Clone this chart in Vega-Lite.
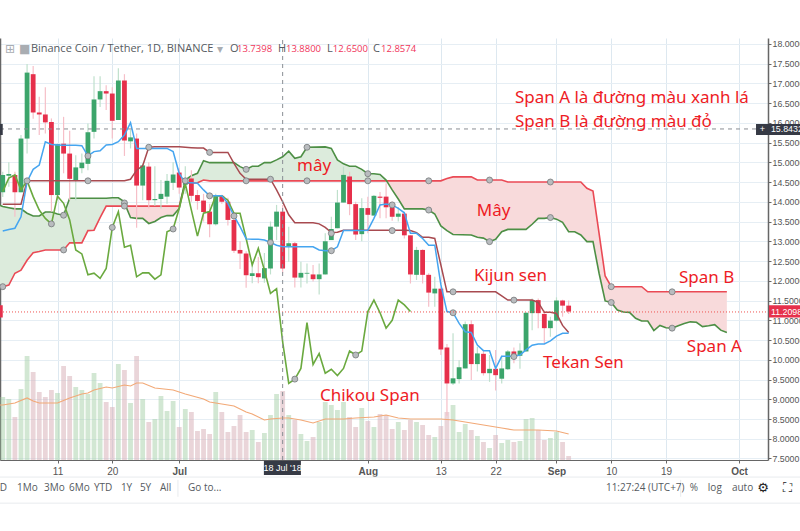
{
"$schema":"https://vega.github.io/schema/vega-lite/v6.json",
"width":768,"height":422,"autosize":{"type":"none"},
"padding":{"left":0,"top":38,"right":32,"bottom":71},
"background":"#ffffff",
"config":{"view":{"stroke":null},"axis":{"title":null}},
"datasets":{
"days":[
{"date":"2018-06-02","open":14.24,"close":14.68,"high":14.76,"low":14.12,"vol":63,"dir":"up","ten":13.26,"kij":13.94,"chi":14.26},
{"date":"2018-06-03","open":14.66,"close":14.7,"high":15.0,"low":14.38,"vol":61,"dir":"up","ten":13.3,"kij":13.94,"chi":14.6},
{"date":"2018-06-04","open":14.68,"close":14.24,"high":14.76,"low":13.62,"vol":43,"dir":"down","ten":13.33,"kij":13.94,"chi":14.68},
{"date":"2018-06-05","open":14.24,"close":15.6,"high":15.69,"low":14.24,"vol":71,"dir":"up","ten":13.62,"kij":13.94,"chi":14.3},
{"date":"2018-06-06","open":15.6,"close":17.27,"high":17.49,"low":15.22,"vol":104,"dir":"up","ten":14.51,"kij":14.53,"chi":14.53},
{"date":"2018-06-07","open":17.23,"close":16.26,"high":17.44,"low":16.1,"vol":88,"dir":"down","ten":14.82,"kij":14.53,"chi":14.13},
{"date":"2018-06-08","open":16.26,"close":16.21,"high":16.66,"low":15.69,"vol":68,"dir":"down","ten":14.93,"kij":14.53,"chi":13.79},
{"date":"2018-06-09","open":16.21,"close":16.01,"high":16.9,"low":15.73,"vol":63,"dir":"down","ten":15.52,"kij":14.53,"chi":13.58},
{"date":"2018-06-10","open":16.02,"close":14.17,"high":16.11,"low":13.75,"vol":70,"dir":"down","ten":15.45,"kij":14.53,"chi":13.44},
{"date":"2018-06-11","open":14.17,"close":15.46,"high":15.47,"low":14.04,"vol":67,"dir":"up","ten":15.44,"kij":14.53,"chi":14.14},
{"date":"2018-06-12","open":15.47,"close":15.22,"high":16.15,"low":14.72,"vol":94,"dir":"down","ten":15.43,"kij":14.53,"chi":13.96},
{"date":"2018-06-13","open":15.22,"close":14.58,"high":15.8,"low":14.04,"vol":84,"dir":"down","ten":15.43,"kij":14.53,"chi":13.54},
{"date":"2018-06-14","open":14.55,"close":14.87,"high":15.18,"low":14.04,"vol":73,"dir":"up","ten":15.43,"kij":14.53,"chi":12.78},
{"date":"2018-06-15","open":14.85,"close":14.99,"high":15.22,"low":14.72,"vol":70,"dir":"up","ten":15.42,"kij":14.53,"chi":12.68},
{"date":"2018-06-16","open":14.96,"close":15.76,"high":15.98,"low":14.8,"vol":66,"dir":"up","ten":15.16,"kij":14.53,"chi":12.15},
{"date":"2018-06-17","open":15.77,"close":16.59,"high":17.18,"low":15.6,"vol":87,"dir":"up","ten":15.27,"kij":14.53,"chi":12.19},
{"date":"2018-06-18","open":16.59,"close":16.8,"high":17.18,"low":16.4,"vol":77,"dir":"up","ten":15.29,"kij":14.53,"chi":12.06},
{"date":"2018-06-19","open":16.8,"close":16.74,"high":16.95,"low":16.32,"vol":58,"dir":"down","ten":15.44,"kij":14.53,"chi":12.31},
{"date":"2018-06-20","open":16.74,"close":16.05,"high":16.9,"low":15.6,"vol":53,"dir":"down","ten":15.45,"kij":14.53,"chi":13.35},
{"date":"2018-06-21","open":16.07,"close":17.07,"high":17.38,"low":16.07,"vol":96,"dir":"up","ten":15.52,"kij":14.53,"chi":13.75},
{"date":"2018-06-22","open":17.07,"close":15.55,"high":17.23,"low":15.16,"vol":90,"dir":"down","ten":15.69,"kij":14.53,"chi":12.85},
{"date":"2018-06-23","open":15.53,"close":15.63,"high":15.82,"low":15.35,"vol":57,"dir":"up","ten":16.0,"kij":14.57,"chi":12.9},
{"date":"2018-06-24","open":15.6,"close":14.41,"high":15.73,"low":13.34,"vol":104,"dir":"down","ten":15.35,"kij":14.8,"chi":12.1},
{"date":"2018-06-25","open":14.41,"close":14.92,"high":14.97,"low":14.04,"vol":61,"dir":"up","ten":15.35,"kij":14.91,"chi":12.2},
{"date":"2018-06-26","open":14.89,"close":14.04,"high":15.0,"low":13.83,"vol":38,"dir":"down","ten":15.35,"kij":15.38,"chi":12.2},
{"date":"2018-06-27","open":14.04,"close":14.07,"high":14.9,"low":13.9,"vol":41,"dir":"up","ten":15.35,"kij":15.39,"chi":12.04},
{"date":"2018-06-28","open":14.07,"close":14.2,"high":14.55,"low":13.83,"vol":64,"dir":"up","ten":15.35,"kij":15.39,"chi":12.15},
{"date":"2018-06-29","open":14.13,"close":14.53,"high":14.7,"low":13.95,"vol":49,"dir":"up","ten":15.35,"kij":15.39,"chi":13.24},
{"date":"2018-06-30","open":14.48,"close":14.69,"high":15.0,"low":14.3,"vol":59,"dir":"up","ten":15.27,"kij":15.39,"chi":13.31},
{"date":"2018-07-01","open":14.74,"close":14.36,"high":14.85,"low":14.2,"vol":33,"dir":"down","ten":14.72,"kij":15.39,"chi":13.83},
{"date":"2018-07-02","open":14.43,"close":14.59,"high":14.9,"low":14.2,"vol":51,"dir":"up","ten":14.48,"kij":15.38,"chi":14.46},
{"date":"2018-07-03","open":14.59,"close":14.15,"high":14.8,"low":14.0,"vol":48,"dir":"down","ten":14.48,"kij":15.37,"chi":13.79},
{"date":"2018-07-04","open":14.17,"close":14.02,"high":14.3,"low":13.8,"vol":29,"dir":"down","ten":14.47,"kij":15.36,"chi":13.13},
{"date":"2018-07-05","open":14.03,"close":13.74,"high":14.2,"low":13.5,"vol":31,"dir":"down","ten":14.3,"kij":15.36,"chi":13.71},
{"date":"2018-07-06","open":13.75,"close":13.43,"high":13.95,"low":13.1,"vol":26,"dir":"down","ten":14.15,"kij":15.25,"chi":13.75},
{"date":"2018-07-07","open":13.43,"close":14.15,"high":14.2,"low":13.4,"vol":68,"dir":"up","ten":14.15,"kij":15.25,"chi":14.15},
{"date":"2018-07-08","open":14.15,"close":14.0,"high":14.18,"low":13.95,"vol":48,"dir":"down","ten":14.15,"kij":15.25,"chi":14.15},
{"date":"2018-07-09","open":14.0,"close":13.54,"high":14.1,"low":13.4,"vol":28,"dir":"down","ten":13.96,"kij":15.25,"chi":14.04},
{"date":"2018-07-10","open":13.54,"close":12.76,"high":13.6,"low":12.7,"vol":34,"dir":"down","ten":13.64,"kij":14.97,"chi":13.71},
{"date":"2018-07-11","open":12.78,"close":12.69,"high":13.0,"low":12.3,"vol":45,"dir":"down","ten":13.37,"kij":14.72,"chi":13.71},
{"date":"2018-07-12","open":12.69,"close":12.14,"high":12.75,"low":11.82,"vol":28,"dir":"down","ten":13.06,"kij":14.57,"chi":13.07},
{"date":"2018-07-13","open":12.12,"close":12.19,"high":12.5,"low":11.94,"vol":30,"dir":"up","ten":13.05,"kij":14.57,"chi":12.4},
{"date":"2018-07-14","open":12.19,"close":12.09,"high":12.6,"low":11.94,"vol":18,"dir":"down","ten":13.05,"kij":14.57,"chi":12.82},
{"date":"2018-07-15","open":12.06,"close":12.32,"high":12.7,"low":11.95,"vol":27,"dir":"up","ten":13.03,"kij":14.57,"chi":12.27},
{"date":"2018-07-16","open":12.31,"close":13.37,"high":13.5,"low":12.16,"vol":45,"dir":"up","ten":12.97,"kij":14.57,"chi":11.68},
{"date":"2018-07-17","open":13.37,"close":13.75,"high":13.92,"low":13.03,"vol":66,"dir":"up","ten":12.9,"kij":14.3,"chi":11.8},
{"date":"2018-07-18","open":13.75,"close":12.31,"high":13.92,"low":12.2,"vol":69,"dir":"down","ten":12.86,"kij":14.0,"chi":10.45},
{"date":"2018-07-19","open":12.86,"close":12.95,"high":13.37,"low":12.48,"vol":45,"dir":"up","ten":12.86,"kij":13.67,"chi":9.4},
{"date":"2018-07-20","open":12.95,"close":12.08,"high":12.98,"low":11.83,"vol":40,"dir":"down","ten":12.86,"kij":13.47,"chi":9.51},
{"date":"2018-07-21","open":12.08,"close":12.2,"high":12.48,"low":11.83,"vol":26,"dir":"up","ten":12.86,"kij":13.47,"chi":9.78},
{"date":"2018-07-22","open":12.18,"close":12.2,"high":12.44,"low":11.93,"vol":19,"dir":"up","ten":12.86,"kij":13.47,"chi":10.94},
{"date":"2018-07-23","open":12.16,"close":12.04,"high":12.4,"low":11.98,"vol":23,"dir":"down","ten":12.86,"kij":13.47,"chi":9.88},
{"date":"2018-07-24","open":12.04,"close":12.16,"high":12.44,"low":11.65,"vol":38,"dir":"up","ten":12.78,"kij":13.44,"chi":10.16},
{"date":"2018-07-25","open":12.16,"close":13.0,"high":13.2,"low":12.16,"vol":58,"dir":"up","ten":12.76,"kij":13.35,"chi":9.66},
{"date":"2018-07-26","open":13.03,"close":13.31,"high":13.62,"low":13.03,"vol":55,"dir":"up","ten":12.76,"kij":13.22,"chi":9.76},
{"date":"2018-07-27","open":13.33,"close":13.98,"high":14.3,"low":13.33,"vol":50,"dir":"up","ten":12.86,"kij":13.23,"chi":9.6},
{"date":"2018-07-28","open":13.98,"close":14.68,"high":14.89,"low":13.98,"vol":58,"dir":"up","ten":13.27,"kij":13.28,"chi":9.78},
{"date":"2018-07-29","open":14.64,"close":13.94,"high":14.76,"low":13.66,"vol":43,"dir":"down","ten":13.27,"kij":13.28,"chi":10.22},
{"date":"2018-07-30","open":13.94,"close":13.17,"high":14.0,"low":13.03,"vol":33,"dir":"down","ten":13.27,"kij":13.28,"chi":10.12},
{"date":"2018-07-31","open":13.18,"close":13.84,"high":14.09,"low":13.0,"vol":52,"dir":"up","ten":13.27,"kij":13.28,"chi":10.22},
{"date":"2018-08-01","open":13.84,"close":13.67,"high":14.13,"low":13.2,"vol":39,"dir":"down","ten":13.28,"kij":13.28,"chi":11.22},
{"date":"2018-08-02","open":13.65,"close":14.15,"high":14.17,"low":13.65,"vol":33,"dir":"up","ten":13.58,"kij":13.28,"chi":11.51},
{"date":"2018-08-03","open":14.13,"close":14.1,"high":14.25,"low":13.58,"vol":46,"dir":"down","ten":13.92,"kij":13.28,"chi":11.19},
{"date":"2018-08-04","open":14.13,"close":13.86,"high":14.47,"low":13.58,"vol":45,"dir":"down","ten":13.94,"kij":13.28,"chi":10.8},
{"date":"2018-08-05","open":13.86,"close":13.62,"high":14.0,"low":13.52,"vol":31,"dir":"down","ten":13.92,"kij":13.28,"chi":11.0},
{"date":"2018-08-06","open":13.62,"close":13.7,"high":13.87,"low":13.5,"vol":38,"dir":"up","ten":13.83,"kij":13.28,"chi":11.51},
{"date":"2018-08-07","open":13.7,"close":13.15,"high":13.75,"low":13.07,"vol":30,"dir":"down","ten":13.72,"kij":13.28,"chi":11.39},
{"date":"2018-08-08","open":13.15,"close":12.16,"high":13.15,"low":11.93,"vol":40,"dir":"down","ten":13.2,"kij":13.27,"chi":11.22},
{"date":"2018-08-09","open":12.15,"close":12.78,"high":12.86,"low":12.02,"vol":38,"dir":"up","ten":13.2,"kij":13.22},
{"date":"2018-08-10","open":12.78,"close":12.15,"high":12.8,"low":11.93,"vol":35,"dir":"down","ten":13.07,"kij":13.1},
{"date":"2018-08-11","open":12.15,"close":11.7,"high":12.19,"low":11.34,"vol":25,"dir":"down","ten":12.9,"kij":13.1},
{"date":"2018-08-12","open":11.68,"close":11.8,"high":12.1,"low":11.34,"vol":23,"dir":"up","ten":12.9,"kij":13.07},
{"date":"2018-08-13","open":11.8,"close":10.26,"high":11.85,"low":10.12,"vol":34,"dir":"down","ten":11.9,"kij":12.4},
{"date":"2018-08-14","open":10.31,"close":9.4,"high":10.4,"low":8.58,"vol":48,"dir":"down","ten":11.22,"kij":11.72},
{"date":"2018-08-15","open":9.4,"close":9.53,"high":10.67,"low":9.36,"vol":55,"dir":"up","ten":11.19,"kij":11.72},
{"date":"2018-08-16","open":9.51,"close":9.81,"high":9.99,"low":9.4,"vol":28,"dir":"up","ten":10.92,"kij":11.72},
{"date":"2018-08-17","open":9.78,"close":10.9,"high":10.97,"low":9.78,"vol":36,"dir":"up","ten":10.71,"kij":11.72},
{"date":"2018-08-18","open":10.9,"close":9.89,"high":11.0,"low":9.49,"vol":30,"dir":"down","ten":10.69,"kij":11.72},
{"date":"2018-08-19","open":9.89,"close":10.16,"high":10.33,"low":9.7,"vol":24,"dir":"up","ten":10.37,"kij":11.72},
{"date":"2018-08-20","open":10.15,"close":9.66,"high":10.25,"low":9.6,"vol":18,"dir":"down","ten":10.23,"kij":11.72},
{"date":"2018-08-21","open":9.66,"close":9.77,"high":10.12,"low":9.44,"vol":12,"dir":"up","ten":10.23,"kij":11.72},
{"date":"2018-08-22","open":9.77,"close":9.61,"high":10.25,"low":9.22,"vol":25,"dir":"down","ten":9.78,"kij":11.72},
{"date":"2018-08-23","open":9.52,"close":9.78,"high":10.1,"low":9.4,"vol":17,"dir":"up","ten":10.09,"kij":11.62},
{"date":"2018-08-24","open":9.76,"close":10.21,"high":10.25,"low":9.74,"vol":20,"dir":"up","ten":10.09,"kij":11.51},
{"date":"2018-08-25","open":10.21,"close":10.09,"high":10.31,"low":9.91,"vol":18,"dir":"down","ten":10.09,"kij":11.51},
{"date":"2018-08-26","open":10.1,"close":10.23,"high":10.42,"low":9.77,"vol":19,"dir":"up","ten":10.12,"kij":11.51},
{"date":"2018-08-27","open":10.21,"close":11.19,"high":11.2,"low":10.21,"vol":41,"dir":"up","ten":10.25,"kij":11.51},
{"date":"2018-08-28","open":11.18,"close":11.51,"high":11.55,"low":10.75,"vol":42,"dir":"up","ten":10.37,"kij":11.51},
{"date":"2018-08-29","open":11.51,"close":11.18,"high":11.55,"low":10.8,"vol":30,"dir":"down","ten":10.4,"kij":11.45},
{"date":"2018-08-30","open":11.16,"close":10.8,"high":11.25,"low":10.42,"vol":20,"dir":"down","ten":10.4,"kij":11.2},
{"date":"2018-08-31","open":10.8,"close":10.99,"high":11.09,"low":10.58,"vol":22,"dir":"up","ten":10.48,"kij":11.2},
{"date":"2018-09-01","open":10.99,"close":11.5,"high":11.58,"low":10.96,"vol":28,"dir":"up","ten":10.6,"kij":11.17},
{"date":"2018-09-02","open":11.5,"close":11.37,"high":11.52,"low":11.09,"vol":18,"dir":"down","ten":10.67,"kij":10.87},
{"date":"2018-09-03","open":11.37,"close":11.22,"high":11.5,"low":11.16,"vol":4,"dir":"down","ten":10.67,"kij":10.69}
],
"span":[
{"date":"2018-06-01","a":13.94,"b":11.8,"seg":"g1"},{"date":"2018-06-02","a":13.88,"b":11.85,"seg":"g1"},{"date":"2018-06-03","a":13.85,"b":11.89,"seg":"g1"},{"date":"2018-06-04","a":13.82,"b":12.19,"seg":"g1"},{"date":"2018-06-05","a":13.82,"b":12.27,"seg":"g1"},{"date":"2018-06-06","a":13.71,"b":12.52,"seg":"g1"},{"date":"2018-06-07","a":13.64,"b":12.71,"seg":"g1"},{"date":"2018-06-08","a":13.64,"b":12.74,"seg":"g1"},{"date":"2018-06-09","a":13.74,"b":12.78,"seg":"g1"},{"date":"2018-06-10","a":13.74,"b":12.78,"seg":"g1"},{"date":"2018-06-11","a":13.69,"b":12.78,"seg":"g1"},{"date":"2018-06-12","a":13.66,"b":12.78,"seg":"g1"},{"date":"2018-06-13","a":14.09,"b":12.96,"seg":"g1"},{"date":"2018-06-15","a":14.09,"b":12.96,"seg":"g1"},{"date":"2018-06-16","a":14.09,"b":13.27,"seg":"g1"},{"date":"2018-06-17","a":14.09,"b":13.28,"seg":"g1"},{"date":"2018-06-18","a":14.09,"b":13.6,"seg":"g1"},{"date":"2018-06-19","a":14.09,"b":13.89,"seg":"g1"},{"date":"2018-06-20","a":14.1,"b":13.89,"seg":"g1"},{"date":"2018-06-21","a":14.1,"b":13.89,"seg":"g1"},{"date":"2018-06-22","a":14.0,"b":13.89,"seg":"g1"},{"date":"2018-06-22T05:00:00Z","a":13.89,"b":13.89,"seg":"g1"},
{"date":"2018-06-22T05:00:00Z","a":13.89,"b":13.89,"seg":"r1"},{"date":"2018-06-23","a":13.6,"b":13.89,"seg":"r1"},{"date":"2018-06-24","a":13.58,"b":13.89,"seg":"r1"},{"date":"2018-06-25","a":13.58,"b":13.89,"seg":"r1"},{"date":"2018-06-26","a":13.45,"b":13.89,"seg":"r1"},{"date":"2018-06-27","a":13.5,"b":13.89,"seg":"r1"},{"date":"2018-06-28","a":13.6,"b":13.89,"seg":"r1"},{"date":"2018-06-29","a":13.65,"b":13.89,"seg":"r1"},{"date":"2018-06-30","a":13.65,"b":13.89,"seg":"r1"},{"date":"2018-07-01","a":13.83,"b":13.89,"seg":"r1"},{"date":"2018-07-01T10:00:00Z","a":14.14,"b":14.14,"seg":"r1"},
{"date":"2018-07-01T10:00:00Z","a":14.14,"b":14.14,"seg":"g2"},{"date":"2018-07-02","a":14.55,"b":14.47,"seg":"g2"},{"date":"2018-07-03","a":14.66,"b":14.47,"seg":"g2"},{"date":"2018-07-04","a":14.72,"b":14.48,"seg":"g2"},{"date":"2018-07-05","a":15.04,"b":14.55,"seg":"g2"},{"date":"2018-07-06","a":14.99,"b":14.53,"seg":"g2"},{"date":"2018-07-10","a":14.99,"b":14.53,"seg":"g2"},{"date":"2018-07-11","a":14.89,"b":14.53,"seg":"g2"},{"date":"2018-07-12","a":14.82,"b":14.53,"seg":"g2"},{"date":"2018-07-13","a":14.9,"b":14.53,"seg":"g2"},{"date":"2018-07-14","a":14.9,"b":14.53,"seg":"g2"},{"date":"2018-07-15","a":14.99,"b":14.53,"seg":"g2"},{"date":"2018-07-16","a":14.99,"b":14.53,"seg":"g2"},{"date":"2018-07-17","a":15.06,"b":14.53,"seg":"g2"},{"date":"2018-07-18","a":15.14,"b":14.53,"seg":"g2"},{"date":"2018-07-19","a":15.28,"b":14.53,"seg":"g2"},{"date":"2018-07-20","a":15.1,"b":14.53,"seg":"g2"},{"date":"2018-07-21","a":15.14,"b":14.53,"seg":"g2"},{"date":"2018-07-22","a":15.38,"b":14.53,"seg":"g2"},{"date":"2018-07-25","a":15.39,"b":14.53,"seg":"g2"},{"date":"2018-07-26","a":15.35,"b":14.53,"seg":"g2"},{"date":"2018-07-27","a":15.06,"b":14.53,"seg":"g2"},{"date":"2018-07-28","a":14.96,"b":14.53,"seg":"g2"},{"date":"2018-07-29","a":14.9,"b":14.53,"seg":"g2"},{"date":"2018-07-30","a":14.9,"b":14.53,"seg":"g2"},{"date":"2018-07-31","a":14.82,"b":14.53,"seg":"g2"},{"date":"2018-08-01","a":14.71,"b":14.53,"seg":"g2"},{"date":"2018-08-02","a":14.71,"b":14.53,"seg":"g2"},{"date":"2018-08-03","a":14.69,"b":14.53,"seg":"g2"},{"date":"2018-08-04","a":14.55,"b":14.53,"seg":"g2"},{"date":"2018-08-04T02:00:00Z","a":14.53,"b":14.53,"seg":"g2"},
{"date":"2018-08-04T02:00:00Z","a":14.53,"b":14.53,"seg":"r2"},{"date":"2018-08-05","a":14.3,"b":14.53,"seg":"r2"},{"date":"2018-08-06","a":14.07,"b":14.53,"seg":"r2"},{"date":"2018-08-07","a":13.82,"b":14.53,"seg":"r2"},{"date":"2018-08-10","a":13.82,"b":14.53,"seg":"r2"},{"date":"2018-08-11","a":13.79,"b":14.53,"seg":"r2"},{"date":"2018-08-12","a":13.69,"b":14.53,"seg":"r2"},{"date":"2018-08-13","a":13.39,"b":14.53,"seg":"r2"},{"date":"2018-08-14","a":13.27,"b":14.59,"seg":"r2"},{"date":"2018-08-15","a":13.17,"b":14.63,"seg":"r2"},{"date":"2018-08-18","a":13.16,"b":14.63,"seg":"r2"},{"date":"2018-08-19","a":13.1,"b":14.55,"seg":"r2"},{"date":"2018-08-20","a":13.08,"b":14.55,"seg":"r2"},{"date":"2018-08-21","a":12.99,"b":14.55,"seg":"r2"},{"date":"2018-08-22","a":13.05,"b":14.55,"seg":"r2"},{"date":"2018-08-23","a":13.24,"b":14.55,"seg":"r2"},{"date":"2018-08-24","a":13.3,"b":14.5,"seg":"r2"},{"date":"2018-08-27","a":13.3,"b":14.5,"seg":"r2"},{"date":"2018-08-28","a":13.43,"b":14.5,"seg":"r2"},{"date":"2018-08-29","a":13.58,"b":14.5,"seg":"r2"},{"date":"2018-08-30","a":13.58,"b":14.5,"seg":"r2"},{"date":"2018-08-31","a":13.6,"b":14.5,"seg":"r2"},{"date":"2018-09-01","a":13.56,"b":14.5,"seg":"r2"},{"date":"2018-09-02","a":13.48,"b":14.5,"seg":"r2"},{"date":"2018-09-03","a":13.24,"b":14.5,"seg":"r2"},{"date":"2018-09-04","a":13.24,"b":14.5,"seg":"r2"},{"date":"2018-09-05","a":13.16,"b":14.5,"seg":"r2"},{"date":"2018-09-06","a":12.99,"b":14.34,"seg":"r2"},{"date":"2018-09-07","a":12.99,"b":14.27,"seg":"r2"},{"date":"2018-09-08","a":12.19,"b":13.2,"seg":"r2"},{"date":"2018-09-09","a":11.49,"b":12.12,"seg":"r2"},{"date":"2018-09-10","a":11.45,"b":11.85,"seg":"r2"},{"date":"2018-09-11","a":11.26,"b":11.85,"seg":"r2"},{"date":"2018-09-12","a":11.21,"b":11.85,"seg":"r2"},{"date":"2018-09-13","a":11.2,"b":11.85,"seg":"r2"},{"date":"2018-09-14","a":11.05,"b":11.85,"seg":"r2"},{"date":"2018-09-15","a":10.98,"b":11.85,"seg":"r2"},{"date":"2018-09-16","a":10.98,"b":11.72,"seg":"r2"},{"date":"2018-09-17","a":10.74,"b":11.72,"seg":"r2"},{"date":"2018-09-18","a":10.87,"b":11.72,"seg":"r2"},{"date":"2018-09-19","a":10.81,"b":11.72,"seg":"r2"},{"date":"2018-09-20","a":10.8,"b":11.72,"seg":"r2"},{"date":"2018-09-21","a":10.86,"b":11.72,"seg":"r2"},{"date":"2018-09-22","a":10.92,"b":11.72,"seg":"r2"},{"date":"2018-09-23","a":10.96,"b":11.72,"seg":"r2"},{"date":"2018-09-24","a":10.95,"b":11.72,"seg":"r2"},{"date":"2018-09-25","a":10.84,"b":11.72,"seg":"r2"},{"date":"2018-09-26","a":10.86,"b":11.72,"seg":"r2"},{"date":"2018-09-27","a":10.89,"b":11.72,"seg":"r2"},{"date":"2018-09-28","a":10.75,"b":11.72,"seg":"r2"},{"date":"2018-09-29","a":10.69,"b":11.72,"seg":"r2"}
],
"volma":[
{"date":"2018-06-01","ma":55},{"date":"2018-06-02","ma":55},{"date":"2018-06-04","ma":57},{"date":"2018-06-06","ma":62},{"date":"2018-06-07","ma":59},{"date":"2018-06-08","ma":57},{"date":"2018-06-11","ma":57},{"date":"2018-06-13","ma":62},{"date":"2018-06-15","ma":66},{"date":"2018-06-16","ma":67},{"date":"2018-06-17","ma":70},{"date":"2018-06-19","ma":73},{"date":"2018-06-20","ma":72},{"date":"2018-06-22","ma":75},{"date":"2018-06-23","ma":74},{"date":"2018-06-24","ma":77},{"date":"2018-06-25","ma":77},{"date":"2018-06-27","ma":72},{"date":"2018-06-30","ma":70},{"date":"2018-07-02","ma":66},{"date":"2018-07-05","ma":61},{"date":"2018-07-06","ma":58},{"date":"2018-07-08","ma":56},{"date":"2018-07-10","ma":54},{"date":"2018-07-12","ma":48},{"date":"2018-07-13","ma":46},{"date":"2018-07-15","ma":40},{"date":"2018-07-16","ma":41},{"date":"2018-07-18","ma":42},{"date":"2018-07-19","ma":42},{"date":"2018-07-21","ma":40},{"date":"2018-07-23","ma":37},{"date":"2018-07-25","ma":41},{"date":"2018-07-28","ma":41},{"date":"2018-07-30","ma":42},{"date":"2018-08-02","ma":43},{"date":"2018-08-04","ma":45},{"date":"2018-08-06","ma":42},{"date":"2018-08-08","ma":41},{"date":"2018-08-13","ma":41},{"date":"2018-08-15","ma":40},{"date":"2018-08-17","ma":38},{"date":"2018-08-20","ma":35},{"date":"2018-08-23","ma":32},{"date":"2018-08-25","ma":30},{"date":"2018-08-29","ma":30},{"date":"2018-09-01","ma":29},{"date":"2018-09-03","ma":26}
],
"markers":[
{"date":"2018-06-26","p":15.38},{"date":"2018-07-06","p":15.25},{"date":"2018-07-12","p":14.82},{"date":"2018-07-12","p":14.53},{"date":"2018-06-16","p":15.16},{"date":"2018-06-16","p":14.53},{"date":"2018-06-06","p":14.53},{"date":"2018-06-22","p":13.97},{"date":"2018-06-22","p":13.89},{"date":"2018-06-12","p":13.66},{"date":"2018-06-10","p":13.44},{"date":"2018-06-12","p":12.78},{"date":"2018-06-20","p":13.35},{"date":"2018-06-30","p":13.31},{"date":"2018-07-02","p":14.53},{"date":"2018-07-06","p":14.15},{"date":"2018-07-10","p":13.64},{"date":"2018-06-02","p":11.85},{"date":"2018-06-01","p":13.94},
{"date":"2018-07-22","p":15.38},{"date":"2018-08-01","p":14.71},{"date":"2018-07-16","p":14.57},{"date":"2018-07-22","p":14.53},{"date":"2018-08-01","p":14.53},{"date":"2018-08-11","p":14.53},{"date":"2018-08-21","p":14.55},{"date":"2018-08-11","p":13.79},{"date":"2018-08-21","p":12.99},{"date":"2018-08-05","p":13.92},{"date":"2018-08-05","p":13.27},{"date":"2018-07-26","p":13.2},{"date":"2018-07-26","p":12.76},{"date":"2018-07-16","p":12.97},{"date":"2018-08-15","p":11.72},{"date":"2018-08-25","p":11.51},
{"date":"2018-07-20","p":9.51},{"date":"2018-07-30","p":10.12},{"date":"2018-08-15","p":11.19},{"date":"2018-08-25","p":10.08},
{"date":"2018-08-31","p":14.5},{"date":"2018-08-31","p":13.6},{"date":"2018-09-10","p":11.85},{"date":"2018-09-10","p":11.45},{"date":"2018-09-20","p":11.72},{"date":"2018-09-20","p":10.8}
]
},
"encoding":{"x":{"field":"date","type":"temporal","scale":{"type":"utc","domain":["2018-06-01T13:12:00Z","2018-10-05T18:15:00Z"],"nice":false,"padding":0},
"axis":{"orient":"bottom","format":"%d","values":["2018-06-11","2018-06-20","2018-07-01","2018-08-01","2018-08-13","2018-08-22","2018-09-01","2018-09-10","2018-09-19","2018-10-01"],
"labelExpr":"utcFormat(datum.value, utcdate(datum.value)==1 ? '%b' : '%d')",
"labelFontWeight":{"condition":{"test":"utcdate(datum.value)==1","value":"bold"},"value":"normal"},
"grid":true,"gridColor":"#dde8f0","domainColor":"#666666","tickColor":"#666666","tickSize":3,"labelColor":"#555555","labelFont":"Liberation Sans","labelFontSize":10,"labelPadding":3,"labelFlush":false,"labelOverlap":false}}},
"resolve":{"scale":{"y":"independent"},"axis":{"y":"independent"}},
"layer":[
{"data":{"name":"days"},"mark":{"type":"bar","size":4.8,"opacity":0.5},
 "encoding":{"y":{"field":"vol","type":"quantitative","scale":{"domain":[0,422],"nice":false,"zero":false},
 "axis":{"orient":"left","labels":false,"ticks":false,"grid":false,"domain":true,"domainColor":"#666666","domainWidth":1.5}},
 "color":{"condition":{"test":"datum.dir=='up'","value":"#a5cfa8"},"value":"#d5acb4"}}},
{"data":{"name":"volma"},"mark":{"type":"line","color":"#f2a977","strokeWidth":1.2,"clip":true},
 "encoding":{"y":{"field":"ma","type":"quantitative","scale":{"domain":[0,422],"nice":false,"zero":false},"axis":null}}},
{"data":{"name":"span"},"transform":[{"filter":"test(/^g/,datum.seg)"}],"mark":{"type":"area","color":"#dcebdc","clip":true},
 "encoding":{"y":{"field":"a","type":"quantitative","scale":{"domain":[7.462,18.146],"nice":false,"zero":false},
  "axis":{"orient":"right","values":[7.5,8,8.5,9,9.5,10,10.5,11,11.5,12,12.5,13,13.5,14,14.5,15,15.5,16,16.5,17,17.5,18],"format":".4f","grid":true,"gridColor":"#e6eef4","domainColor":"#666666","domainWidth":1.5,"tickColor":"#666666","tickSize":3,"labelColor":"#555555","labelFont":"Liberation Sans","labelFontSize":8.8,"labelPadding":1,"labelOverlap":false,"labelFlush":false}},
  "y2":{"field":"b"},"detail":{"field":"seg"}}},
{"data":{"name":"span"},"transform":[{"filter":"test(/^r/,datum.seg)"}],"mark":{"type":"area","color":"#f8dadb","clip":true},
 "encoding":{"y":{"field":"a","type":"quantitative","scale":{"domain":[7.462,18.146],"nice":false,"zero":false},"axis":null},"y2":{"field":"b"},"detail":{"field":"seg"}}},
{"data":{"name":"span"},"mark":{"type":"line","color":"#ea4a55","strokeWidth":1.6,"clip":true},
 "encoding":{"y":{"field":"b","type":"quantitative","scale":{"domain":[7.462,18.146],"nice":false,"zero":false},"axis":null}}},
{"data":{"name":"span"},"mark":{"type":"line","color":"#4d8f45","strokeWidth":1.6,"clip":true},
 "encoding":{"y":{"field":"a","type":"quantitative","scale":{"domain":[7.462,18.146],"nice":false,"zero":false},"axis":null}}},
{"data":{"name":"days"},"mark":{"type":"rule","strokeWidth":1.2},
 "encoding":{"y":{"field":"low","type":"quantitative","scale":{"domain":[7.462,18.146],"nice":false,"zero":false},"axis":null},"y2":{"field":"high"},
 "color":{"condition":{"test":"datum.dir=='up'","value":"#bfe0cc"},"value":"#f6bfc8"}}},
{"data":{"name":"days"},"mark":{"type":"bar","size":4.8},
 "encoding":{"y":{"field":"open","type":"quantitative","scale":{"domain":[7.462,18.146],"nice":false,"zero":false},"axis":null},"y2":{"field":"close"},
 "color":{"condition":{"test":"datum.dir=='up'","value":"#3ca56b"},"value":"#e6304b"}}},
{"data":{"name":"days"},"mark":{"type":"line","color":"#6aa93f","strokeWidth":1.6,"clip":true},
 "encoding":{"y":{"field":"chi","type":"quantitative","scale":{"domain":[7.462,18.146],"nice":false,"zero":false},"axis":null}}},
{"data":{"name":"days"},"mark":{"type":"line","color":"#a84a50","strokeWidth":1.5,"clip":true},
 "encoding":{"y":{"field":"kij","type":"quantitative","scale":{"domain":[7.462,18.146],"nice":false,"zero":false},"axis":null}}},
{"data":{"name":"days"},"mark":{"type":"line","color":"#45a5f0","strokeWidth":1.5,"clip":true},
 "encoding":{"y":{"field":"ten","type":"quantitative","scale":{"domain":[7.462,18.146],"nice":false,"zero":false},"axis":null}}},
{"data":{"name":"markers"},"mark":{"type":"point","filled":true,"fill":"#b9bcbf","stroke":"#75787a","strokeWidth":0.8,"size":36,"opacity":1},
 "encoding":{"y":{"field":"p","type":"quantitative","scale":{"domain":[7.462,18.146],"nice":false,"zero":false},"axis":null}}},
{"data":{"values":[
 {"date":"2018-06-01T13:12:00Z","end":"2018-10-05T18:15:00Z","p":11.2098,"p2":11.2098,"k":"last"},
 {"date":"2018-06-01T13:12:00Z","end":"2018-10-03T19:00:00Z","p":15.8432,"p2":15.8432,"k":"cross"},
 {"date":"2018-07-18","end":"2018-07-18","p":7.462,"p2":18.146,"k":"cross"}]},
 "mark":{"type":"rule","strokeWidth":1},
 "encoding":{"x2":{"field":"end"},"y":{"field":"p","type":"quantitative","scale":{"domain":[7.462,18.146],"nice":false,"zero":false},"axis":null},"y2":{"field":"p2"},
 "color":{"condition":{"test":"datum.k=='last'","value":"#ef5350"},"value":"#8a8e94"},
 "strokeDash":{"condition":{"test":"datum.k=='last'","value":[1,2]},"value":[4,4]}}},
{"data":{"values":[
 {"date":"2018-06-01T13:12:00Z","end":"2018-10-11T04:00:00Z","p":7.03,"p2":7.03},
 {"date":"2018-06-01T13:12:00Z","end":"2018-10-11T04:00:00Z","p":6.37,"p2":6.37},
 {"date":"2018-06-30T19:00:00Z","end":"2018-06-30T19:00:00Z","p":6.96,"p2":6.53},
 {"date":"2018-09-21T10:00:00Z","end":"2018-09-21T10:00:00Z","p":6.96,"p2":6.53}]},
 "mark":{"type":"rule","strokeWidth":1,"color":"#e8ebee"},
 "encoding":{"x2":{"field":"end"},"y":{"field":"p","type":"quantitative","scale":{"domain":[7.462,18.146],"nice":false,"zero":false},"axis":null},"y2":{"field":"p2"}}},
{"data":{"values":[
 {"date":"2018-10-03T19:00:00Z","end":"2018-10-11T04:00:00Z","p":15.69,"p2":15.97,"c":"dark"},
 {"date":"2018-07-14T22:00:00Z","end":"2018-07-21T00:00:00Z","p":7.08,"p2":7.44,"c":"dark"},
 {"date":"2018-10-05T22:00:00Z","end":"2018-10-11T04:00:00Z","p":11.07,"p2":11.38,"c":"red"},
 {"date":"2018-06-01T13:12:00Z","end":"2018-06-02","p":15.69,"p2":15.97,"c":"dark"},
 {"date":"2018-06-01T13:12:00Z","end":"2018-06-02","p":11.07,"p2":11.38,"c":"red"}]},
 "mark":{"type":"rect"},
 "encoding":{"x2":{"field":"end"},"y":{"field":"p","type":"quantitative","scale":{"domain":[7.462,18.146],"nice":false,"zero":false},"axis":null},"y2":{"field":"p2"},
 "color":{"condition":{"test":"datum.c=='red'","value":"#e6304b"},"value":"#363a45"}}},
{"data":{"values":[
 {"date":"2018-10-06T06:00:00Z","p":15.83,"t":"15.8432"},
 {"date":"2018-10-06T06:00:00Z","p":11.22,"t":"11.2098"}]},
 "mark":{"type":"text","align":"left","baseline":"middle","color":"#ffffff","font":"Liberation Sans","fontSize":8.8},
 "encoding":{"y":{"field":"p","type":"quantitative","scale":{"domain":[7.462,18.146],"nice":false,"zero":false},"axis":null},"text":{"field":"t"}}},
{"data":{"values":[
 {"date":"2018-10-04T20:00:00Z","p":15.83,"t":"+"},
 {"date":"2018-07-18","p":7.26,"t":"18 Jul '18"}]},
 "mark":{"type":"text","align":"center","baseline":"middle","color":"#ffffff","font":"Liberation Sans","fontSize":9},
 "encoding":{"y":{"field":"p","type":"quantitative","scale":{"domain":[7.462,18.146],"nice":false,"zero":false},"axis":null},"text":{"field":"t"}}},
{"data":{"values":[
 {"date":"2018-08-25T04:00:00Z","p":16.63,"t":"Span A là đường màu xanh lá"},
 {"date":"2018-08-25T04:00:00Z","p":16.02,"t":"Span B là đường màu đỏ"},
 {"date":"2018-07-20T09:00:00Z","p":14.9,"t":"mây"},
 {"date":"2018-08-18T22:00:00Z","p":13.77,"t":"Mây"},
 {"date":"2018-08-18T11:00:00Z","p":12.12,"t":"Kijun sen"},
 {"date":"2018-09-21T03:00:00Z","p":12.07,"t":"Span B"},
 {"date":"2018-09-22T10:00:00Z","p":10.33,"t":"Span A"},
 {"date":"2018-08-29T19:00:00Z","p":9.93,"t":"Tekan Sen"},
 {"date":"2018-07-24T03:00:00Z","p":9.09,"t":"Chikou Span"}]},
 "mark":{"type":"text","align":"left","baseline":"middle","color":"#ee1c25","font":"Noto Sans","fontSize":17},
 "encoding":{"y":{"field":"p","type":"quantitative","scale":{"domain":[7.462,18.146],"nice":false,"zero":false},"axis":null},"text":{"field":"t"}}},
{"data":{"values":[
 {"date":"2018-06-06T15:00:00Z","p":17.87,"t":"Binance Coin / Tether, 1D, BINANCE"},
 {"date":"2018-07-09T08:00:00Z","p":17.87,"t":"O"},
 {"date":"2018-07-17T06:00:00Z","p":17.87,"t":"H"},
 {"date":"2018-07-25T07:00:00Z","p":17.87,"t":"L"},
 {"date":"2018-08-01T20:00:00Z","p":17.87,"t":"C"}]},
 "mark":{"type":"text","align":"left","baseline":"middle","color":"#555a60","font":"Open Sans","fontSize":11},
 "encoding":{"y":{"field":"p","type":"quantitative","scale":{"domain":[7.462,18.146],"nice":false,"zero":false},"axis":null},"text":{"field":"t"}}},
{"data":{"values":[
 {"date":"2018-07-10T12:00:00Z","p":17.87,"t":"13.7398"},
 {"date":"2018-07-18T13:00:00Z","p":17.87,"t":"13.8800"},
 {"date":"2018-07-26T06:00:00Z","p":17.87,"t":"12.6500"},
 {"date":"2018-08-03T04:00:00Z","p":17.87,"t":"12.8574"}]},
 "mark":{"type":"text","align":"left","baseline":"middle","color":"#f0345a","font":"Open Sans","fontSize":9.5},
 "encoding":{"y":{"field":"p","type":"quantitative","scale":{"domain":[7.462,18.146],"nice":false,"zero":false},"axis":null},"text":{"field":"t"}}},
{"data":{"values":[
 {"date":"2018-06-02T09:00:00Z","p":17.87,"t":"⊞"},
 {"date":"2018-06-04T16:00:00Z","p":17.87,"t":"■"},
 {"date":"2018-07-07T05:00:00Z","p":17.87,"t":"▾"}]},
 "mark":{"type":"text","align":"left","baseline":"middle","color":"#a9adb2","font":"DejaVu Sans","fontSize":12},
 "encoding":{"y":{"field":"p","type":"quantitative","scale":{"domain":[7.462,18.146],"nice":false,"zero":false},"axis":null},"text":{"field":"t"}}},
{"data":{"values":[
 {"date":"2018-05-31T14:00:00Z","p":6.75,"t":"5D"},
 {"date":"2018-06-04T08:00:00Z","p":6.75,"t":"1Mo"},
 {"date":"2018-06-08T19:00:00Z","p":6.75,"t":"3Mo"},
 {"date":"2018-06-12T21:00:00Z","p":6.75,"t":"6Mo"},
 {"date":"2018-06-17T00:00:00Z","p":6.75,"t":"YTD"},
 {"date":"2018-06-21T10:00:00Z","p":6.75,"t":"1Y"},
 {"date":"2018-06-24T13:00:00Z","p":6.75,"t":"5Y"},
 {"date":"2018-06-27T20:00:00Z","p":6.75,"t":"All"},
 {"date":"2018-07-02T11:00:00Z","p":6.75,"t":"Go to..."},
 {"date":"2018-09-09T03:00:00Z","p":6.75,"t":"11:27:24 (UTC+7)"},
 {"date":"2018-09-22T22:00:00Z","p":6.75,"t":"%"},
 {"date":"2018-09-25T21:00:00Z","p":6.75,"t":"log"},
 {"date":"2018-09-29T20:00:00Z","p":6.75,"t":"auto"}]},
 "mark":{"type":"text","align":"left","baseline":"middle","color":"#555a60","font":"Open Sans","fontSize":10},
 "encoding":{"y":{"field":"p","type":"quantitative","scale":{"domain":[7.462,18.146],"nice":false,"zero":false},"axis":null},"text":{"field":"t"}}},
{"data":{"values":[
 {"date":"2018-10-04T00:00:00Z","p":6.75,"t":"⚙"},
 {"date":"2018-10-08T05:00:00Z","p":6.75,"t":"⛶"}]},
 "mark":{"type":"text","align":"left","baseline":"middle","font":"DejaVu Sans","fontSize":13,"color":"#222222"},
 "encoding":{"y":{"field":"p","type":"quantitative","scale":{"domain":[7.462,18.146],"nice":false,"zero":false},"axis":null},"text":{"field":"t"}}}
]}
